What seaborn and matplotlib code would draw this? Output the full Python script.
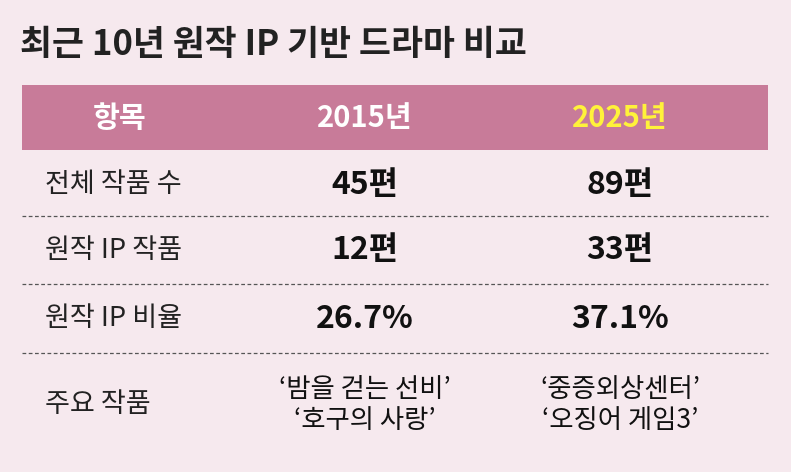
import matplotlib
matplotlib.use("Agg")
import matplotlib.pyplot as plt
import seaborn as sns

title = "최근 10년 원작 IP 기반 드라마 비교"
headers = ["항목", "2015년", "2025년"]
row_labels = ["전체 작품 수", "원작 IP 작품", "원작 IP 비율", "주요 작품"]
values_2015 = ["45편", "12편", "26.7%", "‘밤을 걷는 선비’\n‘호구의 사랑’"]
values_2025 = ["89편", "33편", "37.1%", "‘중증외상센터’\n‘오징어 게임3’"]

bg = "#f6e9ee"
band = "#c87b99"

sns.set_theme(style="white")
plt.rcParams["font.family"] = ["Noto Sans CJK KR", "DejaVu Sans"]

fig = plt.figure(figsize=(7.91, 4.72), dpi=100, facecolor=bg)
ax = fig.add_axes([0, 0, 1, 1])
ax.set_facecolor(bg)
ax.set_xlim(0, 791)
ax.set_ylim(472, 0)
ax.axis("off")

ax.text(20, 45, title, fontsize=25, fontweight="bold", color="#222222", va="center", ha="left")

# header band
ax.fill_between([22, 768], 85, 150, color=band, lw=0)
col_x = [120, 365, 620]
header_colors = ["white", "white", "#fff23a"]
for x, h, c in zip(col_x, headers, header_colors):
    ax.text(x, 118, h, fontsize=21, fontweight="bold", color=c, ha="center", va="center")

row_y = [185, 250, 319, 405]
for y in [216, 284, 353]:
    ax.plot([22, 768], [y, y], ls=(0, (3, 2)), color="#555555", lw=0.9)

for y, lab, v1, v2 in zip(row_y, row_labels, values_2015, values_2025):
    ax.text(45, y, lab, fontsize=19.5, color="#222222", ha="left", va="center")
    big = "\n" not in v1
    fs = 23 if big else 19
    fw = "bold" if big else "normal"
    ax.text(col_x[1], y, v1, fontsize=fs, fontweight=fw, color="#111111",
            ha="center", va="center", linespacing=1.2)
    ax.text(col_x[2], y, v2, fontsize=fs, fontweight=fw, color="#111111",
            ha="center", va="center", linespacing=1.2)

fig.savefig("out.png", dpi=100, facecolor=bg)
plt.close(fig)
